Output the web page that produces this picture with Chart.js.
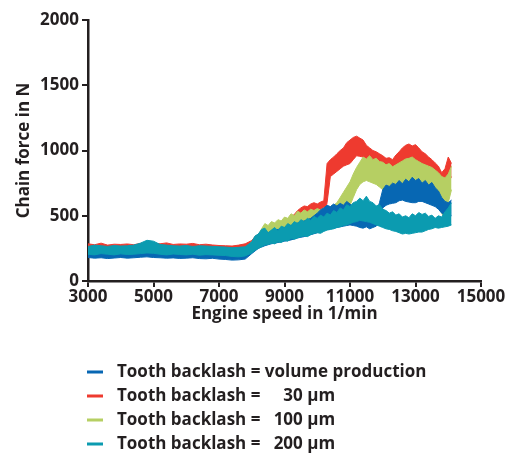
<!DOCTYPE html>
<html>
<head>
<meta charset="utf-8">
<script src="https://cdn.jsdelivr.net/npm/chart.js@4.4.1/dist/chart.umd.min.js"></script>
<style>
  html, body { margin: 0; padding: 0; background: #fff; }
  #wrap { width: 506px; height: 453px; }
</style>
</head>
<body>
<div id="wrap"><canvas id="chart" width="506" height="453"></canvas></div>
<script>
// Engine speed samples (1/min): 200 steps up to 7800, then 100 steps
const rpm = [3000,3200,3400,3600,3800,4000,4200,4400,4600,4800,5000,5200,5400,5600,5800,6000,6200,6400,6600,6800,7000,7200,7400,7600,7800,
  8000,8100,8200,8300,8400,8500,8600,8700,8800,8900,
  9000,9100,9200,9300,9400,9500,9600,9700,9800,9900,
  10000,10100,10200,10300,10400,10500,10600,10700,10800,10900,
  11000,11100,11200,11300,11400,11500,11600,11700,11800,11900,
  12000,12100,12200,12300,12400,12500,12600,12700,12800,12900,
  13000,13100,13200,13300,13400,13500,13600,13700,13800,13900,
  14000,14100];

// Chain force envelope (min / max of the measured trace) in N, per tooth backlash
const volumeLo = [180,175,178,172,176,180,175,178,182,185,180,178,175,177,173,175,178,172,170,174,168,165,160,162,168,
  210,230,250,260,270,278,285,290,295,300,
  305,310,315,322,330,335,340,348,355,362,
  370,380,390,395,400,405,410,415,420,425,
  430,425,420,410,405,415,400,410,420,450,
  560,580,590,595,600,615,620,610,605,600,
  600,610,610,600,590,580,570,550,520,500,
  480,500];
const volumeHi = [232,228,235,230,226,234,230,228,236,240,238,232,228,230,226,228,232,225,228,224,220,218,215,220,228,
  290,320,335,355,365,370,380,390,395,400,
  410,420,425,435,445,450,460,470,480,500,
  520,545,560,580,570,590,575,595,580,610,
  590,570,530,550,515,530,510,535,520,600,
  700,735,725,750,740,770,745,780,760,795,
  770,785,750,770,735,755,715,690,640,610,
  600,620];

const um30Lo = [230,225,232,228,225,230,228,226,232,235,232,230,226,228,225,228,230,224,226,222,220,218,215,220,228,
  260,275,290,295,300,310,320,325,330,340,
  350,360,370,385,400,410,420,430,440,450,
  460,470,480,600,800,820,840,860,880,890,
  900,930,960,955,950,925,900,890,880,865,
  850,845,840,835,830,845,860,870,880,875,
  870,860,850,835,820,800,780,740,700,720,
  750,800];
const um30Hi = [285,278,290,275,282,280,284,278,288,295,290,285,292,280,284,282,288,278,282,276,272,270,268,275,285,
  310,340,360,385,400,410,420,435,440,450,
  460,475,490,510,540,560,575,570,590,600,
  590,605,615,900,930,950,975,1000,1020,1060,
  1080,1100,1110,1095,1080,1040,1020,1000,990,975,
  960,940,945,930,965,990,1020,1040,1050,1035,
  1045,1020,990,975,950,930,905,880,830,860,
  950,900];

const um100Lo = [195,190,198,192,190,195,193,197,200,205,200,196,192,195,190,192,195,188,190,186,185,182,178,180,190,
  230,245,260,275,290,300,310,315,320,330,
  340,350,360,370,380,390,400,405,410,415,
  420,430,440,450,460,475,490,505,520,550,
  580,640,700,740,760,770,760,750,740,720,
  700,690,680,680,680,685,690,695,700,700,
  700,695,690,675,660,640,620,580,520,470,
  600,700];
const um100Hi = [245,242,248,240,245,250,246,248,255,262,258,250,245,248,242,245,248,240,244,238,236,232,228,235,245,
  300,330,350,400,440,425,455,445,470,460,
  490,480,515,500,535,520,545,530,550,540,
  555,545,560,550,570,580,600,640,680,720,
  760,820,870,910,950,935,960,930,940,915,
  910,890,900,875,890,905,920,935,940,950,
  930,915,900,890,880,870,850,830,800,790,
  820,880];

const um200Lo = [205,200,210,205,200,208,203,205,210,215,212,205,200,207,203,200,205,198,202,200,197,195,188,185,192,
  215,235,250,262,275,280,290,285,300,295,
  310,305,325,320,330,340,345,340,355,365,
  370,365,380,390,395,400,410,415,425,430,
  440,450,455,465,460,455,450,440,430,420,
  410,400,395,385,380,370,360,365,360,365,
  370,375,375,385,395,400,410,405,410,415,
  420,430];
const um200Hi = [265,275,270,265,272,268,270,275,290,312,305,280,275,270,268,272,265,270,268,265,262,260,255,258,262,
  300,345,360,395,405,370,390,410,385,420,
  410,440,425,455,440,470,455,480,465,495,
  480,505,490,520,505,540,525,560,545,585,
  570,600,610,635,615,650,610,600,575,585,
  550,540,520,530,505,515,490,500,485,515,
  500,525,510,520,495,505,480,500,490,530,
  560,600];

// Legend labels (figure space keeps the numbers right-aligned)
const seriesLabels = [
  'Tooth backlash = volume production',
  'Tooth backlash =   \u200730 \u00b5m',
  'Tooth backlash =   100 \u00b5m',
  'Tooth backlash =   200 \u00b5m'
];
const seriesLo = [volumeLo, um30Lo, um100Lo, um200Lo];
const seriesHi = [volumeHi, um30Hi, um100Hi, um200Hi];
const seriesColors = ['#0767b3', '#ee3a2f', '#b6cf63', '#0b9bb0'];

// First entry is painted on top
const paintOrder = [3, 0, 2, 1];

const toPoints = arr => arr.map((v, i) => ({ x: rpm[i], y: v }));

const datasets = [];
paintOrder.forEach(k => {
  datasets.push({
    label: seriesLabels[k],
    data: toPoints(seriesHi[k]),
    borderColor: seriesColors[k],
    backgroundColor: seriesColors[k],
    borderWidth: 1,
    pointRadius: 0,
    tension: 0,
    fill: '+1'
  });
  datasets.push({
    label: seriesLabels[k] + ' (min)',
    data: toPoints(seriesLo[k]),
    borderColor: seriesColors[k],
    backgroundColor: seriesColors[k],
    borderWidth: 1,
    pointRadius: 0,
    tension: 0,
    fill: false
  });
});

const FONT = '"Open Sans", "Liberation Sans", sans-serif';
const INK = '#231f20';

// Vertical legend under the plot
const seriesLegend = {
  id: 'seriesLegend',
  afterDraw(chart) {
    const c = chart.ctx;
    c.save();
    c.font = 'bold 17px ' + FONT;
    c.textBaseline = 'middle';
    c.textAlign = 'left';
    seriesLabels.forEach((label, i) => {
      const y = 372 + i * 24;
      c.fillStyle = seriesColors[i];
      c.fillRect(87, y - 1.5, 16, 3);
      c.fillStyle = INK;
      c.fillText(label, 117, y);
    });
    c.restore();
  }
};

const tickFont = { family: FONT, size: 17, weight: 'bold' };

function draw() {
  new Chart(document.getElementById('chart'), {
    type: 'line',
    data: { datasets },
    options: {
      responsive: false,
      animation: false,
      events: [],
      layout: { padding: { top: 20, right: 25, bottom: 125, left: 0 } },
      plugins: { legend: { display: false }, tooltip: { enabled: false } },
      scales: {
        x: {
          type: 'linear',
          min: 3000,
          max: 15000,
          ticks: { stepSize: 2000, format: { useGrouping: false }, font: tickFont, color: INK, padding: 0, maxRotation: 0, minRotation: 0, autoSkip: false },
          grid: { drawOnChartArea: false, drawTicks: true, tickLength: 6, color: INK, lineWidth: 2 },
          border: { display: true, color: INK, width: 2.5 },
          title: { display: true, text: 'Engine speed in 1/min', font: tickFont, color: INK, padding: { top: 0, bottom: 4 } },
          afterFit(scale) { scale.height = 47; }
        },
        y: {
          min: 0,
          max: 2000,
          ticks: { stepSize: 500, format: { useGrouping: false }, font: tickFont, color: INK, padding: 3 },
          grid: { drawOnChartArea: false, drawTicks: true, tickLength: 6, color: INK, lineWidth: 2 },
          border: { display: true, color: INK, width: 2.5 },
          title: { display: true, text: 'Chain force in N', font: tickFont, color: INK, padding: { top: 14, bottom: 0 } },
          afterFit(scale) { scale.width = 88; }
        }
      }
    },
    plugins: [seriesLegend]
  });
}

if (document.fonts && document.fonts.load) {
  document.fonts.load('bold 17px "Open Sans"').then(draw, draw);
} else {
  draw();
}
</script>
</body>
</html>
